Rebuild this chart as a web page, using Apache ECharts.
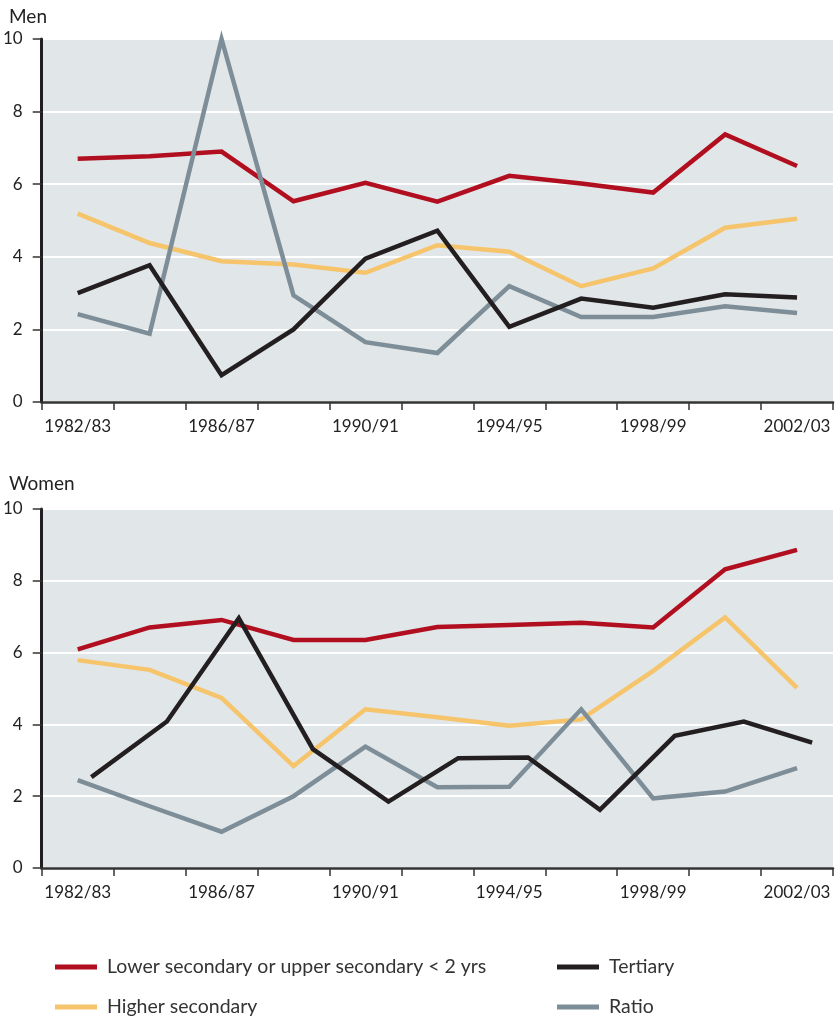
<!DOCTYPE html>
<html>
<head>
<meta charset="utf-8">
<script src="https://cdn.jsdelivr.net/npm/echarts@6/dist/echarts.min.js"></script>
<style>html,body{margin:0;padding:0;background:#fff}#c{width:838px;height:1019px}</style>
</head>
<body>
<div id="c"></div>
<script>
const categories = ['1982/83','1984/85','1986/87','1988/89','1990/91','1992/93','1994/95','1996/97','1998/99','2000/01','2002/03'];
const yTicks = [0, 2, 4, 6, 8, 10];

const menLower    = [6.70, 6.77, 6.90, 5.53, 6.04, 5.52, 6.23, 6.02, 5.77, 7.37, 6.50];
const menHigher   = [5.19, 4.38, 3.88, 3.79, 3.56, 4.32, 4.14, 3.19, 3.68, 4.80, 5.05];
const menTertiary = [3.00, 3.77, 0.74, 2.00, 3.95, 4.72, 2.07, 2.85, 2.60, 2.97, 2.88];
const menRatio    = [2.42, 1.88, 10.0, 2.94, 1.65, 1.35, 3.19, 2.34, 2.34, 2.64, 2.45];

const womenLower    = [6.09, 6.70, 6.91, 6.35, 6.35, 6.71, 6.77, 6.83, 6.70, 8.32, 8.86];
const womenHigher   = [5.79, 5.52, 4.74, 2.84, 4.42, 4.20, 3.96, 4.14, 5.49, 6.98, 5.02];
const womenRatio    = [2.45, 1.72, 1.01, 2.00, 3.38, 2.25, 2.26, 4.42, 1.94, 2.13, 2.78];
const womenTertiary = [2.53, 4.08, 6.96, 3.31, 1.85, 3.06, 3.08, 1.62, 3.68, 4.08, 3.49];
// Tertiary (women) points sit slightly right of category centres in the source
const womenTertiaryPos = [0.19, 1.24, 2.24, 3.27, 4.32, 5.29, 6.26, 7.26, 8.30, 9.26, 10.21];

const names = ['Lower secondary or upper secondary < 2 yrs', 'Higher secondary', 'Tertiary', 'Ratio'];
const colors = { lower: '#b10f1f', higher: '#f6c46b', tertiary: '#231f20', ratio: '#7d8e98' };

const FONT = 'Lato';
const chart = echarts.init(document.getElementById('c'));

function xCat(gi) {
  return {
    type: 'category', gridIndex: gi, data: categories, boundaryGap: true,
    axisLine: { show: true, onZero: false, lineStyle: { color: '#333', width: 2.5 } },
    axisTick: { show: true, interval: 0, length: 8, lineStyle: { color: '#333', width: 1.5 } },
    axisLabel: { interval: 1, color: '#222', fontSize: 17, fontFamily: FONT, margin: 16 },
    splitLine: { show: false }
  };
}
function yVal(gi) {
  return {
    type: 'value', gridIndex: gi, min: yTicks[0], max: yTicks[yTicks.length - 1], interval: 2,
    axisLine: { show: true, onZero: false, lineStyle: { color: '#231f20', width: 3 } },
    axisTick: { show: true, length: 9, lineStyle: { color: '#333', width: 1.5 } },
    axisLabel: { color: '#222', fontSize: 17, fontFamily: FONT, margin: 19 },
    splitLine: { show: true, lineStyle: { color: '#ffffff', width: 2 } }
  };
}
function line(name, color, data, xi, yi) {
  return {
    name, type: 'line', xAxisIndex: xi, yAxisIndex: yi, data, symbol: 'none', clip: false,
    lineStyle: { color, width: 4.5, join: 'miter', cap: 'butt' }, itemStyle: { color },
    emphasis: { disabled: true }
  };
}
function legendItem(name, left, top) {
  return {
    left, top, padding: 0, orient: 'horizontal', itemWidth: 42, itemHeight: 5, icon: 'rect',
    data: [name], textStyle: { fontSize: 19.5, color: '#333', fontFamily: FONT, padding: [0, 0, 0, 5] }
  };
}

chart.setOption({
  animation: false,
  backgroundColor: '#ffffff',
  title: [
    { text: 'Men', left: 4, top: 2, textStyle: { fontSize: 19, fontWeight: 'normal', color: '#222', fontFamily: FONT } },
    { text: 'Women', left: 4, top: 469, textStyle: { fontSize: 19, fontWeight: 'normal', color: '#222', fontFamily: FONT } }
  ],
  grid: [
    { left: 40, top: 39, width: 793, height: 363, show: true, backgroundColor: '#e1e6e8', borderWidth: 0 },
    { left: 40, top: 509, width: 793, height: 359, show: true, backgroundColor: '#e1e6e8', borderWidth: 0 }
  ],
  xAxis: [
    xCat(0), xCat(1),
    { type: 'value', gridIndex: 1, min: -0.5, max: categories.length - 0.5, show: false,
      axisLine: { onZero: false }, splitLine: { show: false } }
  ],
  yAxis: [yVal(0), yVal(1)],
  legend: [
    legendItem(names[0], 55, 957),
    legendItem(names[1], 55, 997),
    legendItem(names[2], 557, 957),
    legendItem(names[3], 557, 997)
  ],
  series: [
    line(names[0], colors.lower, menLower, 0, 0),
    line(names[1], colors.higher, menHigher, 0, 0),
    line(names[3], colors.ratio, menRatio, 0, 0),
    line(names[2], colors.tertiary, menTertiary, 0, 0),
    line(names[0], colors.lower, womenLower, 1, 1),
    line(names[1], colors.higher, womenHigher, 1, 1),
    line(names[3], colors.ratio, womenRatio, 1, 1),
    line(names[2], colors.tertiary, womenTertiary.map((v, i) => [womenTertiaryPos[i], v]), 2, 1)
  ]
});
</script>
</body>
</html>
